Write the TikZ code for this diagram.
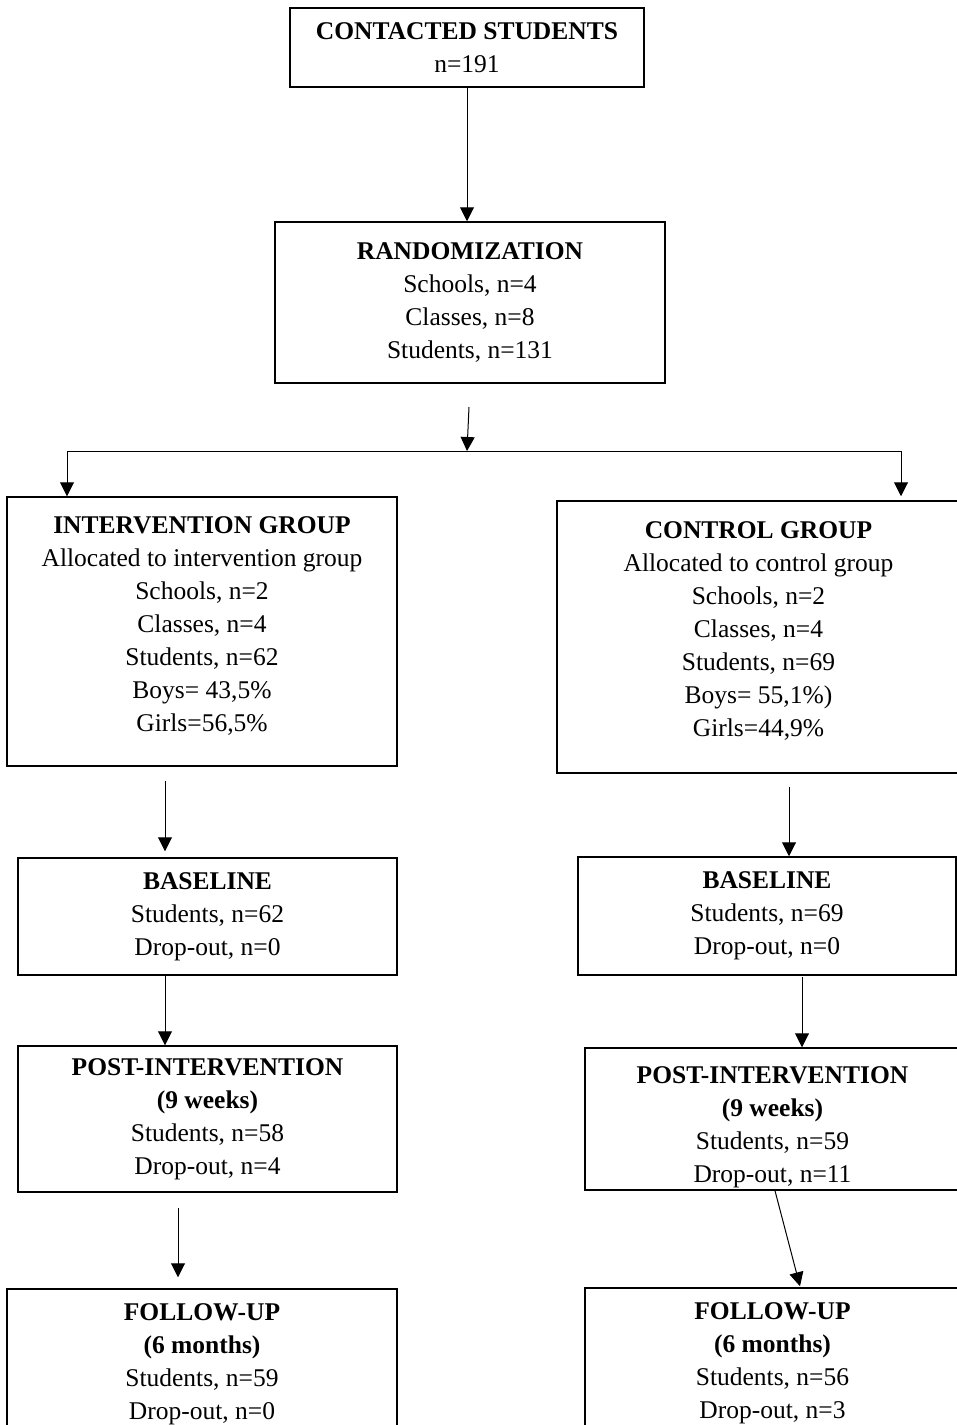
\documentclass[tikz,border=0pt]{standalone}
\usepackage{fontspec}
\setmainfont{Liberation Serif}
\usetikzlibrary{arrows.meta}
\tikzset{
  stage/.style={draw, line width=0.75pt, align=center, inner sep=0pt,
                font=\fontsize{12.75}{16.5}\selectfont},
  arr/.style={-{Triangle[length=7pt,width=7pt]}, line width=0.5pt}
}
\begin{document}
\begin{tikzpicture}[x=0.5pt,y=-0.5pt]
                    \useasboundingbox (0,0) rectangle (957,1425);
                    \clip (0,0) rectangle (957,1425);
                    % top
                    \node[stage, minimum width=177pt, minimum height=39.5pt] (contacted) at (467,47.5)
                        {\textbf{CONTACTED STUDENTS}\\n=191};
                    \node[stage, minimum width=195pt, minimum height=80.5pt] (random) at (470,302.5)
                        {\textbf{RANDOMIZATION}\\Schools, n=4\\Classes, n=8\\Students, n=131};
                    \draw[arr] (contacted.south) -- (contacted.south |- random.north);
                    % split
                    \coordinate (rtail) at (469,407);
                    \coordinate (split) at (467,451);
                    \coordinate (bl) at (67,451);
                    \coordinate (br) at (901,451);
                    \draw[arr] (rtail) -- (split);
                    \draw[line width=0.5pt] (bl) -- (br);
                    % left hand
                    \scope
                    \node[stage, minimum width=195pt, minimum height=134.5pt] (int) at (202,631.5)
                        {\textbf{INTERVENTION GROUP}\\Allocated to intervention group\\Schools, n=2\\Classes, n=4\\Students, n=62\\Boys= 43,5\%\\Girls=56,5\%\\[-9.5pt]\mbox{}};
                    \node[stage, minimum width=189.5pt, minimum height=58.5pt] (baseL) at (207.5,916.5)
                        {\textbf{BASELINE}\\Students, n=62\\Drop-out, n=0};
                    \node[stage, minimum width=189.5pt, minimum height=73pt] (postL) at (207.5,1119)
                        {\textbf{POST-INTERVENTION}\\\textbf{(9 weeks)}\\Students, n=58\\Drop-out, n=4};
                    \node[stage, minimum width=195pt, minimum height=75.5pt] (follL) at (202,1364.5)
                        {\textbf{FOLLOW-UP}\\\textbf{(6 months)}\\Students, n=59\\Drop-out, n=0};
                    \draw[arr] (bl) -- (bl |- int.north);
                    \draw[arr] ([shift={(-37,14)}]int.south) -- ([shift={(-42.5,-6)}]baseL.north);
                    \draw[arr] ([shift={(-42.5,0)}]baseL.south) -- ([shift={(-42.5,0)}]postL.north);
                    \draw[arr] ([shift={(-29.5,15)}]postL.south) -- ([shift={(-24,-11)}]follL.north);
                    \endscope
                    % right hand
                    \scope
                    \node[stage, minimum width=201.5pt, minimum height=136pt] (ctl) at (758.5,637)
                        {\textbf{CONTROL GROUP}\\Allocated to control group\\Schools, n=2\\Classes, n=4\\Students, n=69\\Boys= 55,1\%)\\Girls=44,9\%\\[-8.5pt]\mbox{}};
                    \node[stage, minimum width=189pt, minimum height=59pt] (baseR) at (767,916)
                        {\textbf{BASELINE}\\Students, n=69\\Drop-out, n=0};
                    \node[stage, minimum width=187.5pt, minimum height=71pt] (postR) at (772.5,1119)
                        {\rule{0pt}{17pt}\textbf{POST-INTERVENTION}\\\textbf{(9 weeks)}\\Students, n=59\\Drop-out, n=11};
                    \node[stage, minimum width=187.5pt, minimum height=75.5pt] (follR) at (772.5,1363.5)
                        {\textbf{FOLLOW-UP}\\\textbf{(6 months)}\\Students, n=56\\Drop-out, n=3};
                    \draw[arr] (br) -- ([yshift=2pt]br |- ctl.north);
                    \draw[arr] ([shift={(30.5,13)}]ctl.south) -- ([shift={(22,0)}]baseR.north);
                    \draw[arr] ([shift={(35,1)}]baseR.south) -- ([shift={(29.5,0)}]postR.north);
                    \draw[arr] ([shift={(2.5,0)}]postR.south) -- ([shift={(27.5,-1)}]follR.north);
                    \endscope
                \end{tikzpicture}
\end{document}
